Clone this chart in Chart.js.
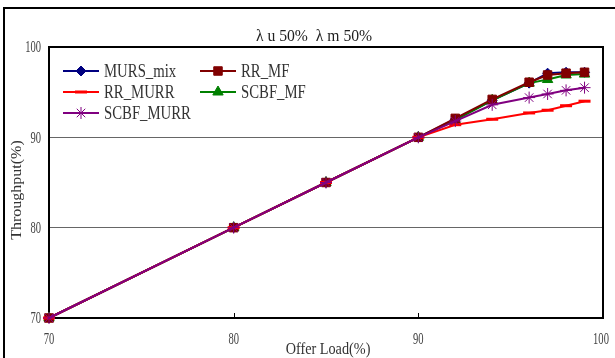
<!DOCTYPE html>
<html>
<head>
<meta charset="utf-8">
<script src="https://cdn.jsdelivr.net/npm/chart.js@4.4.0/dist/chart.umd.js"></script>
<style>
  html, body { margin: 0; padding: 0; background: #fff; }
  #wrap { width: 615px; height: 358px; position: relative; }
</style>
</head>
<body>
<div id="wrap"><canvas id="tp"></canvas></div>
<script>
// offered load on the x axis (%)
const offerLoad = [70, 80, 85, 90, 92, 94, 96, 97, 98, 99];
const xTicks = [70, 80, 90, 100];
const yTicks = [70, 80, 90, 100];

// throughput per scheduler (%)
const mursMix   = [70, 80, 85, 90, 92.0, 94.1, 96.0, 97.1, 97.2, 97.2];
const rrMf      = [70, 80, 85, 90, 92.1, 94.2, 96.1, 96.9, 97.1, 97.2];
const rrMurr    = [70, 80, 85, 90, 91.4, 92.0, 92.7, 93.0, 93.5, 94.0];
const scbfMf    = [70, 80, 85, 90, 91.9, 94.1, 96.0, 96.4, 96.9, 97.0];
const scbfMurr  = [70, 80, 85, 90, 91.8, 93.6, 94.4, 94.8, 95.2, 95.5];

const SERIF = '"Liberation Serif", "Times New Roman", serif';

function pts(vals) {
  return offerLoad.map((x, i) => ({ x: x, y: vals[i] }));
}

function series(label, vals, color, style, radius, order, extra) {
  return Object.assign({
    label: label,
    data: pts(vals),
    borderColor: color,
    backgroundColor: color,
    pointBackgroundColor: color,
    pointBorderColor: color,
    pointStyle: style,
    pointRadius: radius,
    pointBorderWidth: 1,
    borderWidth: 2,
    tension: 0,
    clip: false,
    order: order
  }, extra || {});
}

// text squeezed horizontally, like the narrow serif of the original figure
function narrowText(ctx, text, x, y, sx, align) {
  ctx.save();
  ctx.translate(x, y);
  ctx.scale(sx, 1);
  ctx.textAlign = align;
  ctx.fillText(text, 0, 0);
  ctx.restore();
}

const decor = {
  id: 'decor',
  beforeDraw(chart) {
    const ctx = chart.ctx;
    ctx.save();
    ctx.fillStyle = '#fff';
    ctx.fillRect(0, 0, chart.width, chart.height);
    // outer frame
    ctx.strokeStyle = '#000';
    ctx.lineWidth = 2;
    ctx.beginPath();
    ctx.moveTo(4, 360);
    ctx.lineTo(4, 8);
    ctx.lineTo(620, 8);
    ctx.stroke();
    ctx.restore();
  },
  beforeDatasetsDraw(chart) {
    const ctx = chart.ctx;
    const a = chart.chartArea;
    const xs = chart.scales.x, ys = chart.scales.y;
    ctx.save();

    // plot border and inward x ticks
    ctx.strokeStyle = '#000';
    ctx.lineWidth = 2;
    ctx.strokeRect(a.left, a.top, a.right - a.left, a.bottom - a.top);
    ctx.lineWidth = 1;
    xTicks.slice(1, -1).forEach(v => {
      const px = Math.round(xs.getPixelForValue(v)) + 0.5;
      ctx.beginPath();
      ctx.moveTo(px, a.bottom);
      ctx.lineTo(px, a.bottom - 5);
      ctx.stroke();
    });

    // tick labels
    ctx.fillStyle = '#444';
    ctx.font = '17px ' + SERIF;
    ctx.textBaseline = 'middle';
    yTicks.forEach(v => {
      narrowText(ctx, String(v), a.left - 8, ys.getPixelForValue(v) + 1, 0.62, 'right');
    });
    xTicks.forEach(v => {
      narrowText(ctx, String(v), xs.getPixelForValue(v) - (v === 100 ? 2 : 0), a.bottom + 22, 0.62, 'center');
    });

    // axis titles
    ctx.fillStyle = '#333';
    ctx.font = '16px ' + SERIF;
    narrowText(ctx, 'Offer Load(%)', 328, 350, 0.89, 'center');
    ctx.save();
    ctx.translate(17, 190);
    ctx.rotate(-Math.PI / 2);
    ctx.scale(1, 0.85);
    ctx.textAlign = 'center';
    ctx.fillText('Throughput(%)', 0, 0);
    ctx.restore();

    // chart heading
    ctx.fillStyle = '#222';
    ctx.font = '16px ' + SERIF;
    narrowText(ctx, '\u03bb u 50%  \u03bb m 50%', 314, 37, 0.98, 'center');

    ctx.restore();
  },
  afterDatasetsDraw(chart) {
    const ctx = chart.ctx;
    ctx.save();
    // legend, two columns
    const slots = [
      [63, 71], [200, 71],
      [63, 92], [200, 92],
      [63, 113]
    ];
    ctx.font = '18px ' + SERIF;
    chart.data.datasets.forEach((ds, i) => {
      const s = slots[i];
      ctx.strokeStyle = ds.borderColor;
      ctx.lineWidth = 2;
      ctx.beginPath();
      ctx.moveTo(s[0], s[1]);
      ctx.lineTo(s[0] + 36, s[1]);
      ctx.stroke();
      ctx.fillStyle = ds.pointBackgroundColor;
      ctx.strokeStyle = ds.pointBorderColor;
      ctx.lineWidth = ds.pointBorderWidth;
      Chart.helpers.drawPoint(ctx, {
        pointStyle: ds.pointStyle,
        radius: ds.pointRadius,
        borderWidth: ds.pointBorderWidth
      }, s[0] + 18, s[1]);
      ctx.fillStyle = '#333';
      ctx.textBaseline = 'middle';
      narrowText(ctx, ds.label, s[0] + 41, s[1] + 1, 0.82, 'left');
    });
    ctx.restore();
  }
};

new Chart(document.getElementById('tp'), {
  type: 'line',
  data: {
    datasets: [
      series('MURS_mix', mursMix, '#000080', 'rectRot', 5, 4),
      series('RR_MF', rrMf, '#800000', 'rect', 6, 2),
      series('RR_MURR', rrMurr, '#ff0000', 'line', 6, 1, { pointBorderWidth: 3 }),
      series('SCBF_MF', scbfMf, '#008000', 'triangle', 6, 3),
      series('SCBF_MURR', scbfMurr, '#800080', 'star', 6, 0)
    ]
  },
  options: {
    responsive: true,
    maintainAspectRatio: false,
    animation: false,
    layout: { padding: { left: 0, right: 12, top: 47, bottom: 0 } },
    plugins: {
      legend: { display: false },
      tooltip: { enabled: false }
    },
    scales: {
      x: {
        type: 'linear',
        min: 70,
        max: 100,
        ticks: { display: false, stepSize: 10 },
        grid: { display: false },
        border: { display: false },
        afterFit(scale) { scale.height = 40; }
      },
      y: {
        min: 70,
        max: 100,
        ticks: { display: false, stepSize: 10 },
        grid: {
          drawTicks: false,
          lineWidth: 1,
          color: ctx => (ctx.tick && (ctx.tick.value === 80 || ctx.tick.value === 90)) ? '#666' : 'rgba(0,0,0,0)'
        },
        border: { display: false },
        afterFit(scale) { scale.width = 49; }
      }
    }
  },
  plugins: [decor]
});
</script>
</body>
</html>
